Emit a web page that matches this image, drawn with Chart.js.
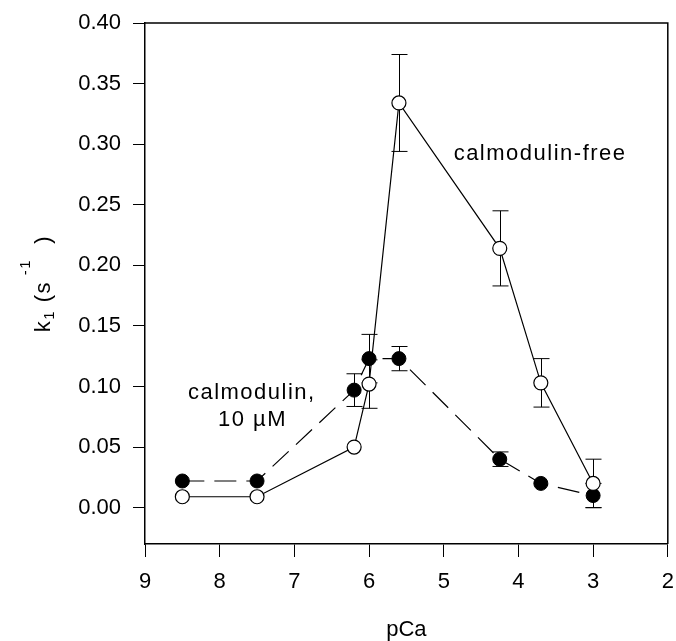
<!DOCTYPE html>
<html lang="en">
<head>
    <meta charset="UTF-8">
    <title>k1 vs pCa</title>
    <script src="https://cdn.jsdelivr.net/npm/chart.js"></script>
</head>
<style>
    body { margin: 0; background: #fff; }
</style>
<body>
    <canvas id="grafico" width="676" height="641"></canvas>
</body>
</html>

<script>
    // values
    const pCa = [8.5, 7.5, 6.2, 6.0, 5.6, 4.25, 3.7, 3.0];
    const kFree = [0.009, 0.009, 0.050, 0.102, 0.334, 0.214, 0.103, 0.020];
    const errFree = [0, 0, 0, 0.020, 0.040, 0.031, 0.020, 0.020];
    const kCam = [0.022, 0.022, 0.097, 0.123, 0.123, 0.040, 0.020, 0.010];
    const errCam = [0, 0, 0.0135, 0.020, 0.010, 0.006, 0, 0.010];
    const xTicks = [9, 8, 7, 6, 5, 4, 3, 2];
    const yTicks = [0, 0.05, 0.10, 0.15, 0.20, 0.25, 0.30, 0.35, 0.40];

    const fonte = 'Liberation Sans, Arial, sans-serif';
    const ctx = document.getElementById('grafico');

    const pontos = (ys) => pCa.map((x, i) => ({ x: x, y: ys[i] }));

    const extras = {
      id: 'extras',
      beforeDatasetsDraw(chart) {
        const c = chart.ctx;
        const xs = chart.scales.x, ys = chart.scales.y;
        c.save();
        c.strokeStyle = '#000';
        c.lineWidth = 1;
        [[kFree, errFree], [kCam, errCam]].forEach(([k, e]) => {
          pCa.forEach((x, i) => {
            if (!e[i]) return;
            const px = Math.round(xs.getPixelForValue(x)) + 0.5;
            const top = ys.getPixelForValue(k[i] + e[i]);
            const bot = ys.getPixelForValue(k[i] - e[i]);
            c.beginPath();
            c.moveTo(px, top); c.lineTo(px, bot);
            c.moveTo(px - 8, top); c.lineTo(px + 8, top);
            c.moveTo(px - 8, bot); c.lineTo(px + 8, bot);
            c.stroke();
          });
        });
        c.restore();
      },
      afterDraw(chart) {
        const c = chart.ctx;
        const a = chart.chartArea;
        const xs = chart.scales.x, ys = chart.scales.y;
        c.save();
        // frame top and right
        c.strokeStyle = '#000';
        c.lineWidth = 1.5;
        c.beginPath();
        c.moveTo(a.left, a.top); c.lineTo(a.right, a.top); c.lineTo(a.right, a.bottom);
        c.stroke();

        c.fillStyle = '#000';
        c.textAlign = 'center';
        c.textBaseline = 'middle';
        c.font = '22px ' + fonte;
        c.letterSpacing = '1.5px';
        c.fillText('calmodulin-free', xs.getPixelForValue(3.71), ys.getPixelForValue(0.292));
        c.fillText('calmodulin,', xs.getPixelForValue(7.57), ys.getPixelForValue(0.095));
        c.fillText('10 \u00b5M', xs.getPixelForValue(7.56), ys.getPixelForValue(0.072));

        // y title k1 (s-1)
        const partes = [
          { t: 'k', s: 22, dy: 0 },
          { t: '1', s: 15, dy: 4 },
          { t: ' (s', s: 22, dy: 0 },
          { t: ' -1', s: 15, dy: -20 },
          { t: '  )', s: 22, dy: 0 }
        ];
        let total = 0;
        partes.forEach(p => { c.font = p.s + 'px ' + fonte; p.w = c.measureText(p.t).width; total += p.w; });
        c.translate(50, (a.top + a.bottom) / 2);
        c.rotate(-Math.PI / 2);
        c.textAlign = 'left';
        c.textBaseline = 'alphabetic';
        let pos = -total / 2;
        partes.forEach(p => {
          c.font = p.s + 'px ' + fonte;
          c.fillText(p.t, pos, p.dy);
          pos += p.w;
        });
        c.restore();
      }
    };

    new Chart(ctx, {
      type: 'scatter',
      data: {
        datasets: [
        {
          label: 'calmodulin-free',
          data: pontos(kFree),
          showLine: true,
          borderColor: '#000',
          borderWidth: 1.2,
          pointBackgroundColor: '#fff',
          pointBorderColor: '#000',
          pointBorderWidth: 1.2,
          pointRadius: 7
        },
        {
          label: 'calmodulin, 10 uM',
          data: pontos(kCam),
          showLine: true,
          borderColor: '#000',
          borderWidth: 1.2,
          borderDash: [22, 10],
          pointBackgroundColor: '#000',
          pointBorderColor: '#000',
          pointBorderWidth: 1,
          pointRadius: 7
        }]
      },
      options: {
        responsive: false,
        animation: false,
        layout: { padding: { top: 23, right: 6, left: 0, bottom: 0 } },
        plugins: {
          legend: { display: false },
          tooltip: { enabled: false }
        },
        scales: {
          x: {
            type: 'linear',
            min: 2,
            max: 9,
            reverse: true,
            afterBuildTicks: (s) => { s.ticks = xTicks.map(v => ({ value: v })); },
            afterFit: (s) => { s.height = 97; s.paddingRight = 0; s.paddingLeft = 0; },
            grid: { drawOnChartArea: false, tickLength: 13, color: '#000' },
            border: { color: '#000', width: 1.5 },
            ticks: { color: '#000', padding: 12, maxRotation: 0, font: { family: fonte, size: 22 } },
            title: {
              display: true,
              text: 'pCa',
              color: '#000',
              padding: 0,
              font: { family: fonte, size: 22, lineHeight: 1 }
            }
          },
          y: {
            min: -0.03,
            max: 0.40,
            afterBuildTicks: (s) => { s.ticks = yTicks.map(v => ({ value: v })); },
            afterFit: (s) => { s.width = 145; s.paddingTop = 0; s.paddingBottom = 0; },
            grid: { drawOnChartArea: false, tickLength: 12, color: '#000' },
            border: { color: '#000', width: 1.5 },
            ticks: {
              color: '#000',
              padding: 12,
              font: { family: fonte, size: 22 },
              callback: (v) => v.toFixed(2)
            }
          }
        }
      },
      plugins: [extras]
    });
</script>
